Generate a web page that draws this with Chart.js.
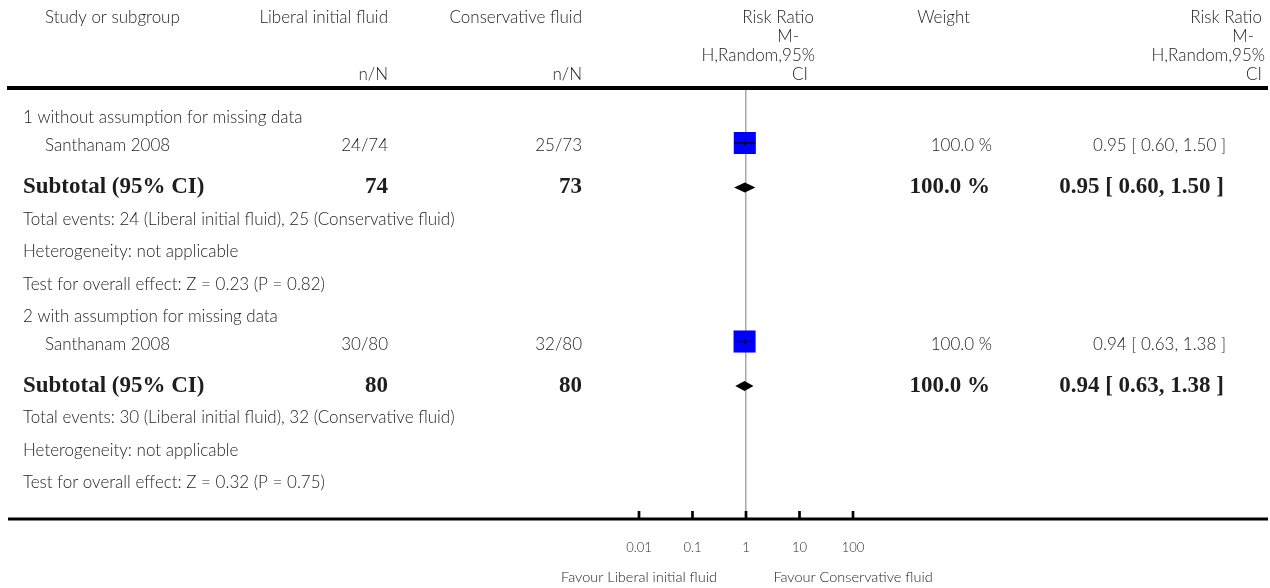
<!DOCTYPE html>
<html>
<head>
<meta charset="utf-8">
<script src="https://cdn.jsdelivr.net/npm/chart.js@4.4.1/dist/chart.umd.min.js"></script>
<style>
  html, body { margin: 0; padding: 0; background: #ffffff; }
  #wrap { position: relative; width: 1270px; height: 588px; }
</style>
</head>
<body>
<div id="wrap"><canvas id="forest" width="1270" height="588"></canvas></div>
<script>
// ---- Data ----
const subgroups = ['1 without assumption for missing data', '2 with assumption for missing data'];
const studies = ['Santhanam 2008', 'Santhanam 2008'];
const liberalEvents = [24, 30];
const liberalTotals = [74, 80];
const conservativeEvents = [25, 32];
const conservativeTotals = [73, 80];
const studyRR = [0.95, 0.94];
const studyLow = [0.60, 0.63];
const studyHigh = [1.50, 1.38];
const studyWeight = [100.0, 100.0];
const subtotalRR = [0.95, 0.94];
const subtotalLow = [0.60, 0.63];
const subtotalHigh = [1.50, 1.38];
const subtotalWeight = [100.0, 100.0];
const heterogeneity = ['not applicable', 'not applicable'];
const zStats = [0.23, 0.32];
const pValues = [0.82, 0.75];
const xTicks = [0.01, 0.1, 1, 10, 100];
const groupNames = ['Liberal initial fluid', 'Conservative fluid'];
const effectHeader = ['Risk Ratio', 'M-', 'H,Random,95%', 'CI'];
const favourLabels = ['Favour Liberal initial fluid', 'Favour Conservative fluid'];

// ---- Row layout (vertical offsets below the header rule, by row kind) ----
const GAP = { firstGroup: 30, group: 32, study: 25, subtotal: 44.5, events: 32, info: 32.5 };
const rows = [];
let yPos = 0;
subgroups.forEach((name, g) => {
  yPos += g === 0 ? GAP.firstGroup : GAP.group;
  rows.push({ kind: 'group', y: yPos, g });
  yPos += GAP.study;
  rows.push({ kind: 'study', y: yPos, g });
  yPos += GAP.subtotal;
  rows.push({ kind: 'subtotal', y: yPos, g });
  yPos += GAP.events;
  rows.push({ kind: 'events', y: yPos, g });
  yPos += GAP.info;
  rows.push({ kind: 'het', y: yPos, g });
  yPos += GAP.info;
  rows.push({ kind: 'test', y: yPos, g });
});
const yMax = yPos + 36;
const studyRows = rows.filter(r => r.kind === 'study');
const subtotalRows = rows.filter(r => r.kind === 'subtotal');

const fmt2 = v => v.toFixed(2);
const ciText = (rr, lo, hi) => `${fmt2(rr)} [ ${fmt2(lo)}, ${fmt2(hi)} ]`;

// ---- Fonts / colours ----
const SANS = '300 17px Lato';
const SANS_SMALL = '300 14.5px Lato';
const SERIF_B = 'bold 23px "Liberation Serif"';
const INK = '#1e1e1e';

// ---- Plugin: table text, rules, axis ticks and summary diamonds ----
const forestTable = {
  id: 'forestTable',
  beforeDatasetsDraw(chart) {
    const ctx = chart.ctx;
    const xs = chart.scales.x;
    const ys = chart.scales.y;
    ctx.save();
    ctx.fillStyle = '#000000';
    subtotalRows.forEach(r => {
      const i = r.g;
      const yc = ys.getPixelForValue(r.y);
      const xl = xs.getPixelForValue(subtotalLow[i]);
      const xm = xs.getPixelForValue(subtotalRR[i]);
      const xr = xs.getPixelForValue(subtotalHigh[i]);
      ctx.beginPath();
      ctx.moveTo(xl, yc);
      ctx.lineTo(xm, yc - 5);
      ctx.lineTo(xr, yc);
      ctx.lineTo(xm, yc + 5);
      ctx.closePath();
      ctx.fill();
    });
    ctx.restore();
  },
  afterDraw(chart) {
    const ctx = chart.ctx;
    const xs = chart.scales.x;
    const ys = chart.scales.y;
    const area = chart.chartArea;
    ctx.save();

    // table rules
    ctx.fillStyle = '#000000';
    ctx.fillRect(7, area.top - 2, 1261, 4);
    ctx.fillRect(8, area.bottom - 1.5, 1260, 3);

    // axis tick marks standing on the bottom rule
    ctx.strokeStyle = '#000000';
    ctx.lineWidth = 2.7;
    xTicks.forEach(v => {
      const px = xs.getPixelForValue(v);
      ctx.beginPath();
      ctx.moveTo(px, area.bottom - 8);
      ctx.lineTo(px, area.bottom);
      ctx.stroke();
    });

    const text = (s, x, y, align, font) => {
      ctx.font = font || SANS;
      ctx.textAlign = align || 'left';
      ctx.textBaseline = 'middle';
      ctx.fillStyle = INK;
      ctx.fillText(s, x, y);
    };

    // header block
    const hy = [18, 37, 56, 75];
    text('Study or subgroup', 45, hy[0], 'left');
    text(groupNames[0], 388, hy[0], 'right');
    text(groupNames[1], 582, hy[0], 'right');
    text('n/N', 388, hy[3], 'right');
    text('n/N', 582, hy[3], 'right');
    const midRight = [814, 799, 815, 808];
    const endRight = [1262, 1254, 1265, 1262];
    effectHeader.forEach((s, k) => {
      text(s, midRight[k], hy[k], 'right');
      text(s, endRight[k], hy[k], 'right');
    });
    text('Weight', 970, hy[0], 'right');

    // body rows
    rows.forEach(r => {
      const y = ys.getPixelForValue(r.y);
      const i = r.g;
      if (r.kind === 'group') {
        text(subgroups[i], 23, y, 'left');
      } else if (r.kind === 'study') {
        const ty = y + 3;
        text(studies[i], 45, ty, 'left');
        text(`${liberalEvents[i]}/${liberalTotals[i]}`, 388, ty, 'right');
        text(`${conservativeEvents[i]}/${conservativeTotals[i]}`, 582, ty, 'right');
        text(`${studyWeight[i].toFixed(1)} %`, 992, ty, 'right');
        text(ciText(studyRR[i], studyLow[i], studyHigh[i]), 1226, ty, 'right');
      } else if (r.kind === 'subtotal') {
        text('Subtotal (95% CI)', 23, y, 'left', SERIF_B);
        text(String(liberalTotals[i]), 388, y, 'right', SERIF_B);
        text(String(conservativeTotals[i]), 582, y, 'right', SERIF_B);
        text(`${subtotalWeight[i].toFixed(1)} %`, 990, y, 'right', SERIF_B);
        text(ciText(subtotalRR[i], subtotalLow[i], subtotalHigh[i]), 1224, y, 'right', SERIF_B);
      } else if (r.kind === 'events') {
        text(`Total events: ${liberalEvents[i]} (${groupNames[0]}), ${conservativeEvents[i]} (${groupNames[1]})`, 23, y, 'left');
      } else if (r.kind === 'het') {
        text(`Heterogeneity: ${heterogeneity[i]}`, 23, y, 'left');
      } else if (r.kind === 'test') {
        text(`Test for overall effect: Z = ${zStats[i].toFixed(2)} (P = ${pValues[i].toFixed(2)})`, 23, y, 'left');
      }
    });

    // favour labels centred under the ends of the scale
    text(favourLabels[0], xs.getPixelForValue(xTicks[0]), 577, 'center', SANS_SMALL);
    text(favourLabels[1], xs.getPixelForValue(xTicks[xTicks.length - 1]), 577, 'center', SANS_SMALL);
    ctx.restore();
  }
};

// ---- Datasets ----
const squares = {
  type: 'scatter',
  data: studyRows.map(r => ({ x: studyRR[r.g], y: r.y })),
  pointStyle: 'rect',
  pointRadius: studyRows.map(r => 7.8 * Math.sqrt(studyWeight[r.g] / 25)),
  backgroundColor: '#0000ff',
  borderWidth: 0,
  order: 3
};
const ciLines = studyRows.map(r => ({
  type: 'line',
  data: [{ x: studyLow[r.g], y: r.y }, { x: studyHigh[r.g], y: r.y }],
  borderColor: '#000000',
  borderWidth: 1.3,
  pointRadius: 0,
  fill: false,
  order: 2
}));
const centreMarks = {
  type: 'scatter',
  data: studyRows.map(r => ({ x: studyRR[r.g], y: r.y })),
  pointStyle: 'line',
  rotation: 90,
  pointRadius: 2.5,
  borderColor: '#000000',
  borderWidth: 1.3,
  order: 1
};

new Chart(document.getElementById('forest'), {
  type: 'scatter',
  data: { datasets: [squares, ...ciLines, centreMarks] },
  options: {
    responsive: false,
    animation: false,
    events: [],
    layout: { padding: { left: 639, right: 417, top: 88, bottom: 0 } },
    plugins: { legend: { display: false }, tooltip: { enabled: false } },
    scales: {
      x: {
        type: 'logarithmic',
        min: xTicks[0],
        max: xTicks[xTicks.length - 1],
        afterBuildTicks: s => { s.ticks = xTicks.map(v => ({ value: v })); },
        afterFit: s => { s.height = 69; },
        border: { display: false },
        grid: {
          drawTicks: false,
          drawOnChartArea: true,
          color: c => (c.tick && c.tick.value === 1 ? '#a9a9a9' : 'rgba(0,0,0,0)'),
          lineWidth: 1.5
        },
        ticks: {
          padding: 21,
          color: '#2a2a2a',
          font: { family: 'Lato', size: 13, weight: '300' },
          maxRotation: 0,
          autoSkip: false,
          callback: v => String(v)
        }
      },
      y: {
        type: 'linear',
        display: false,
        reverse: true,
        min: 0,
        max: yMax
      }
    }
  },
  plugins: [forestTable]
});
</script>
</body>
</html>
